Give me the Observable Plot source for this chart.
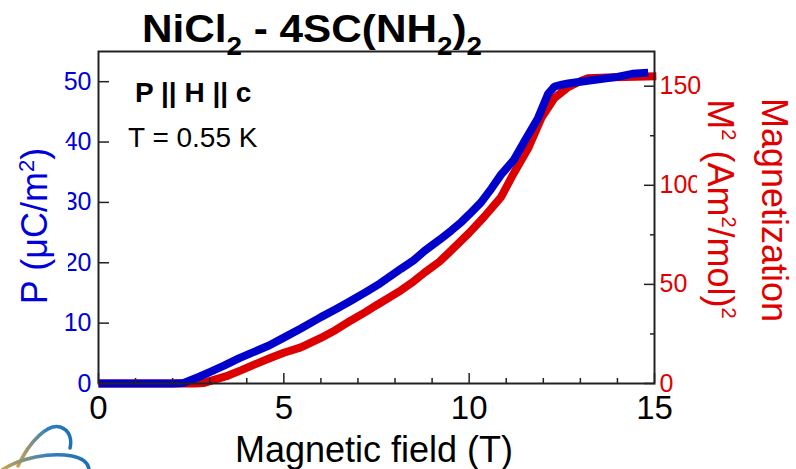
<!DOCTYPE html>
<html>
<head>
<meta charset="utf-8">
<script src="https://cdn.jsdelivr.net/npm/d3@7"></script>
<script src="https://cdn.jsdelivr.net/npm/@observablehq/plot@0.6"></script>
<style>
  html, body { margin: 0; padding: 0; background: #fff; }
  #chart { width: 796px; height: 469px; overflow: hidden; }
</style>
</head>
<body>
<div id="chart"></div>
<script>
// ---- data ----
const blueField = [0, 1, 2, 2.3, 2.5, 2.75, 3.0, 3.4, 3.8, 4.1, 4.6, 5.0, 5.46, 6.0, 6.4, 6.81, 7.2, 7.6, 8.16, 8.5, 8.8, 9.2, 9.51, 9.8, 10.0, 10.32, 10.6, 10.86, 11.2, 11.5, 11.86, 12.13, 12.3, 12.5, 12.67, 13.0, 13.5, 14.0, 14.4, 14.83];
const bluePolarization = [0, 0, 0, 0.1, 0.6, 1.2, 1.9, 3.0, 4.2, 5.0, 6.3, 7.6, 9.1, 11.0, 12.3, 13.7, 15.1, 16.6, 19.0, 20.4, 22.0, 23.8, 25.3, 26.8, 28.0, 30.0, 32.3, 34.6, 37.0, 40.2, 44.0, 48.0, 49.2, 49.5, 49.7, 50.0, 50.4, 50.8, 51.3, 51.5];
const redField = [0, 1, 2, 2.6, 2.85, 3.0, 3.5, 3.84, 4.2, 4.65, 5.0, 5.46, 6.0, 6.4, 6.81, 7.2, 7.5, 8.16, 8.5, 8.8, 9.2, 9.51, 10.0, 10.4, 10.86, 11.2, 11.6, 11.95, 12.3, 12.67, 13.0, 13.2, 13.9, 14.5, 15.05];
const redMagnetizationSq = [0, 0, 0, 0, 0.3, 1.2, 4.0, 6.6, 9.5, 13.0, 15.5, 18.2, 23.0, 27.0, 31.8, 36.0, 39.5, 47.0, 51.5, 56.0, 61.5, 67.0, 76.0, 84.0, 94.0, 106.0, 119.0, 134.0, 144.0, 149.5, 152.5, 154.0, 154.5, 154.8, 155.0];

const xDomain = [0, 15];
const xMajorTicks = [0, 5, 10, 15];
const xMinorTicks = [1, 2, 3, 4, 6, 7, 8, 9, 11, 12, 13, 14];
const leftDomain = [0, 55];
const leftTicks = [0, 10, 20, 30, 40, 50];
const rightDomain = [0, 167.5];
const rightMajorTicks = [0, 50, 100, 150];
const rightMinorTicks = [25, 75, 125];

// ---- styling ----
const BLUE = "#0000cc", BLUE_TXT = "#0000dd", RED = "#dd0000", RED_TXT = "#e00000";
const FONT = "'Liberation Sans', Arial, Helvetica, sans-serif";
const k = leftDomain[1] / rightDomain[1];   // maps right-axis values onto the left scale

const blueData = blueField.map((x, i) => ({x, y: bluePolarization[i]}));
const redData = redField.map((x, i) => ({x, y: redMagnetizationSq[i] * k}));

const svg = Plot.plot({
  width: 796, height: 469,
  marginLeft: 98, marginRight: 142, marginTop: 51, marginBottom: 86,
  x: {domain: xDomain},
  y: {domain: leftDomain},
  style: {fontFamily: FONT, background: "#fff", overflow: "visible"},
  marks: [
    Plot.lineY(redData, {x: "x", y: "y", stroke: RED, strokeWidth: 8, strokeLinecap: "butt", strokeLinejoin: "miter"}),
    Plot.lineY(blueData, {x: "x", y: "y", stroke: BLUE, strokeWidth: 8, strokeLinecap: "butt", strokeLinejoin: "miter"}),
    Plot.frame({stroke: "#222", strokeWidth: 2}),
    Plot.axisX(xMajorTicks, {tickSize: -10, tickPadding: 22, fontSize: 33, fill: "#000", stroke: "#222", strokeWidth: 1.5, label: null}),
    Plot.axisX(xMinorTicks, {tickSize: -5, tickFormat: () => "", stroke: "#222", strokeWidth: 1.5, label: null}),
    Plot.axisY(leftTicks, {anchor: "left", tickSize: -11, tickPadding: 18, fontSize: 25, fill: BLUE_TXT, stroke: "#222", strokeWidth: 1.5, label: null}),
    Plot.axisY(rightMajorTicks.map(v => v * k), {anchor: "right", tickSize: -11, tickPadding: 16, fontSize: 25, fill: RED_TXT, stroke: "#222", strokeWidth: 1.5, tickFormat: d => String(Math.round(d / k)), label: null}),
    Plot.axisY(rightMinorTicks.map(v => v * k), {anchor: "right", tickSize: -5, tickFormat: () => "", stroke: "#222", strokeWidth: 1.5, label: null})
  ]
});
document.getElementById("chart").appendChild(svg);

// ---- text annotations ----
const s = d3.select(svg);

// title with subscripts
const title = s.append("text")
  .attr("x", 142).attr("y", 42).attr("text-anchor", "start")
  .attr("font-family", FONT).attr("font-weight", "bold").attr("font-size", 38)
  .attr("fill", "#000")
  .attr("textLength", 340).attr("lengthAdjust", "spacingAndGlyphs");
title.append("tspan").text("NiCl");
title.append("tspan").attr("dy", 13).attr("font-size", 25).text("2");
title.append("tspan").attr("dy", -13).text(" - 4SC(NH");
title.append("tspan").attr("dy", 13).attr("font-size", 25).text("2");
title.append("tspan").attr("dy", -13).text(")");
title.append("tspan").attr("dy", 13).attr("font-size", 25).text("2");

// inside annotations
s.append("text").attr("x", 135).attr("y", 102).attr("text-anchor", "start")
  .attr("font-family", FONT).attr("font-weight", "bold").attr("font-size", 28)
  .attr("fill", "#000").text("P || H || c");
s.append("text").attr("x", 128).attr("y", 147).attr("text-anchor", "start")
  .attr("font-family", FONT).attr("font-size", 28)
  .attr("fill", "#000").text("T = 0.55 K");

// x axis title
s.append("text").attr("x", 374).attr("y", 462).attr("text-anchor", "middle")
  .attr("font-family", FONT).attr("font-size", 36)
  .attr("fill", "#000").text("Magnetic field (T)");

// left axis title (white box behind, as in the reference)
s.append("rect").attr("x", 12).attr("y", 143).attr("width", 56).attr("height", 165).attr("fill", "#fff");
const yl = s.append("text").attr("transform", "translate(47,226) rotate(-90)")
  .attr("text-anchor", "middle")
  .attr("font-family", FONT).attr("font-size", 36).attr("fill", BLUE_TXT);
yl.append("tspan").text("P (\u03BCC/m");
yl.append("tspan").attr("dy", -13).attr("font-size", 22).text("2");
yl.append("tspan").attr("dy", 13).text(")");

// right axis titles
s.append("rect").attr("x", 697).attr("y", 92).attr("width", 48).attr("height", 236).attr("fill", "#fff");
const yr = s.append("text").attr("transform", "translate(708,209) rotate(90)")
  .attr("text-anchor", "middle")
  .attr("font-family", FONT).attr("font-size", 36).attr("fill", RED_TXT);
yr.append("tspan").text("M");
yr.append("tspan").attr("dy", -14).attr("font-size", 20).text("2");
yr.append("tspan").attr("dy", 14).text(" (Am");
yr.append("tspan").attr("dy", -14).attr("font-size", 20).text("2");
yr.append("tspan").attr("dy", 14).text("/mol)");
yr.append("tspan").attr("dy", -14).attr("font-size", 20).text("2");

s.append("text").attr("transform", "translate(762,210) rotate(90)")
  .attr("text-anchor", "middle")
  .attr("font-family", FONT).attr("font-size", 36).attr("fill", RED_TXT)
  .text("Magnetization");

// small decorative logo (bottom-left corner)
const defs = s.append("defs");
const g = defs.append("linearGradient").attr("id", "logoGrad").attr("x1", "0").attr("x2", "1").attr("y1", "0").attr("y2", "0");
g.append("stop").attr("offset", "0%").attr("stop-color", "#c8a24a");
g.append("stop").attr("offset", "55%").attr("stop-color", "#2f7fc1");
g.append("stop").attr("offset", "100%").attr("stop-color", "#1f6fb5");
s.append("path").attr("d", "M18,466 C30,440 48,424 60,427 C70,430 72,440 70,448")
  .attr("fill", "none").attr("stroke", "url(#logoGrad)").attr("stroke-width", 3.5).attr("stroke-linecap", "round");
s.append("path").attr("d", "M2,470 C20,458 50,452 72,456 C82,458 88,463 89,469")
  .attr("fill", "none").attr("stroke", "url(#logoGrad)").attr("stroke-width", 3.5).attr("stroke-linecap", "round");
</script>
</body>
</html>
